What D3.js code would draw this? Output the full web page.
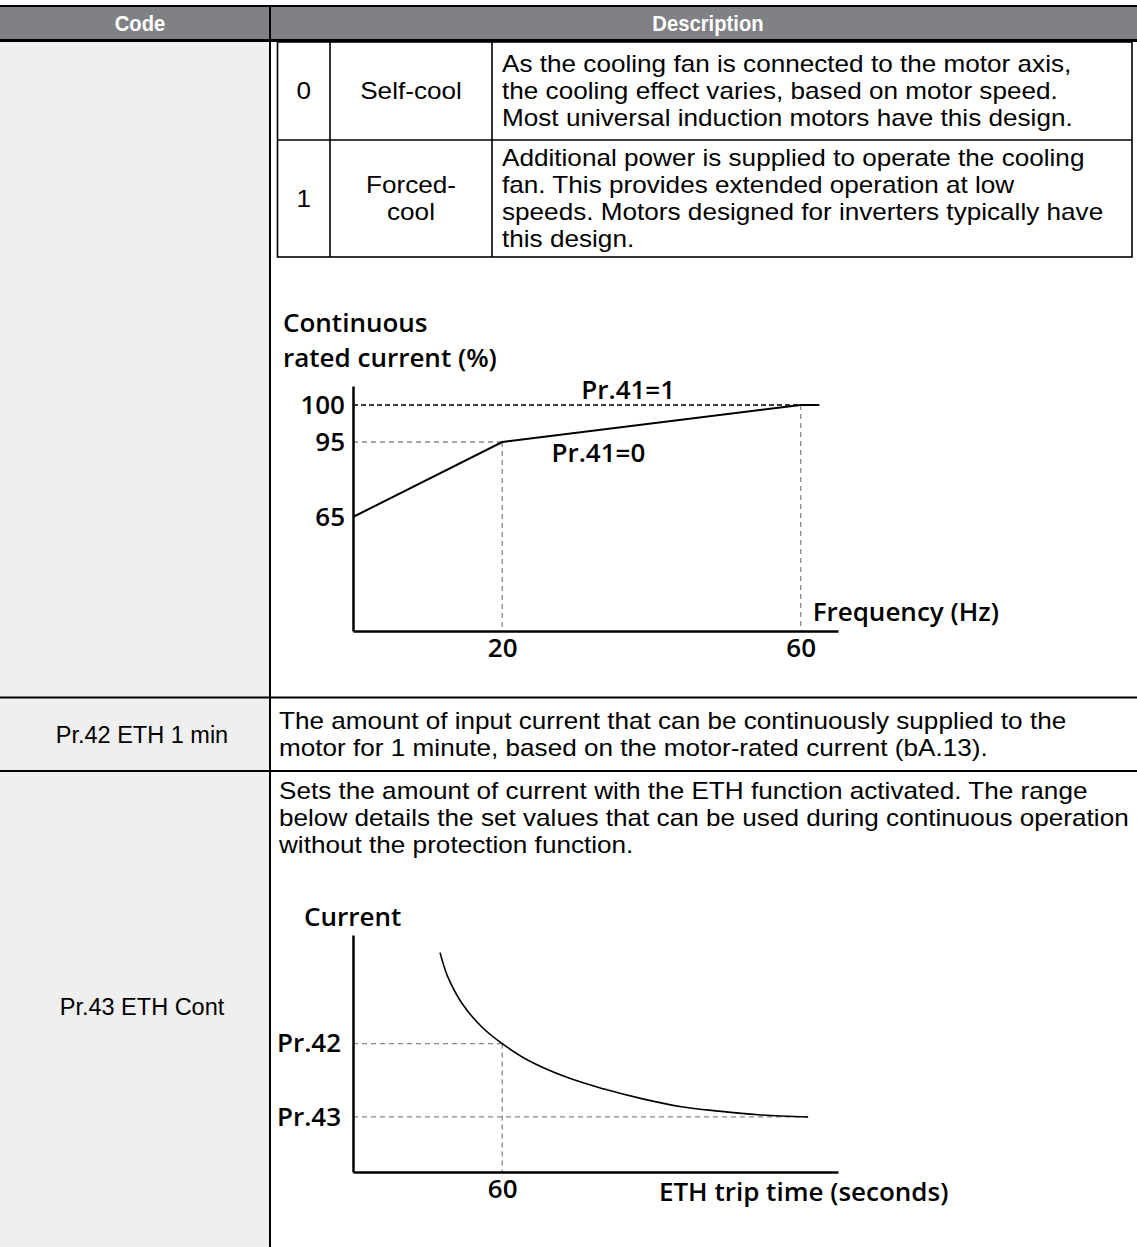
<!DOCTYPE html>
<html><head><meta charset="utf-8">
<script src="https://cdn.jsdelivr.net/npm/d3@7"></script>
<style>body{margin:0;background:#fff}svg{display:block}</style>
</head><body>
<svg id="c" width="1137" height="1247"></svg>
<script>
// ---------- table content ----------
const headerLabels = ["Code", "Description"];
const coolingCodes = ["0", "1"];
const coolingNames = [["Self-cool"], ["Forced-", "cool"]];
const coolingDescs = [
  ["As the cooling fan is connected to the motor axis,",
   "the cooling effect varies, based on motor speed.",
   "Most universal induction motors have this design."],
  ["Additional power is supplied to operate the cooling",
   "fan. This provides extended operation at low",
   "speeds. Motors designed for inverters typically have",
   "this design."]
];
const rowCodes = ["Pr.42 ETH 1 min", "Pr.43 ETH Cont"];
const rowDescs = [
  ["The amount of input current that can be continuously supplied to the",
   "motor for 1 minute, based on the motor-rated current (bA.13)."],
  ["Sets the amount of current with the ETH function activated. The range",
   "below details the set values that can be used during continuous operation",
   "without the protection function."]
];

// ---------- chart 1: continuous rated current vs frequency ----------
const chart1Title = ["Continuous", "rated current (%)"];
const freqTicks = [20, 60];
const ratedTicks = [65, 95, 100];
const selfCoolFreq = [0, 20, 60, 62.5];
const selfCoolRated = [65, 95, 100, 100];
const forcedCoolFreq = [0, 60];
const forcedCoolRated = [100, 100];
const curveLabels = ["Pr.41=1", "Pr.41=0"];
const freqAxisLabel = "Frequency (Hz)";

// ---------- chart 2: ETH trip curve ----------
const chart2Title = "Current";
const tripTime = [35, 38, 44, 52, 60, 70, 86, 101, 116, 132, 147, 163, 183];
const tripCurrent = [212, 196, 177, 161, 150, 139, 127, 119, 112.5, 107, 104, 101.5, 100];
const currentTickValues = [150, 100];
const currentTickLabels = ["Pr.42", "Pr.43"];
const timeTicks = [60];
const timeAxisLabel = "ETH trip time (seconds)";

// ---------- drawing ----------
const W = 1137, H = 1247;
const svg = d3.select("#c");
const TF = "'Liberation Sans', Arial, sans-serif";
const CF = "'Open Sans', sans-serif";
const TFS = 23;

// horizontal fit for the table font (longest description line ~850px wide)
const probe = svg.append("text").attr("font-family", TF).attr("font-size", TFS).text(rowDescs[1][1]);
const sx = 850 / probe.node().getComputedTextLength();
probe.remove();

function tText(str, x, cy, anchor, fs, color, weight, scale) {
  const s = scale === undefined ? sx : scale;
  return svg.append("text")
    .attr("transform", `translate(${x},${cy + 0.36 * fs}) scale(${s},1)`)
    .attr("text-anchor", anchor)
    .attr("font-family", TF).attr("font-size", fs)
    .attr("font-weight", weight || "normal")
    .attr("fill", color || "#000")
    .text(str);
}
function hline(x1, x2, y, w, c) {
  svg.append("line").attr("x1", x1).attr("x2", x2).attr("y1", y).attr("y2", y)
    .attr("stroke", c || "#000").attr("stroke-width", w);
}
function vline(x, y1, y2, w, c) {
  svg.append("line").attr("x1", x).attr("x2", x).attr("y1", y1).attr("y2", y2)
    .attr("stroke", c || "#000").attr("stroke-width", w);
}

// backgrounds
svg.append("rect").attr("x", 0).attr("y", 42).attr("width", 269).attr("height", H - 42).attr("fill", "#efefef");
svg.append("rect").attr("x", 0).attr("y", 6).attr("width", W).attr("height", 34).attr("fill", "#808184");

// header borders and text
hline(0, W, 6, 2);
hline(0, W, 40.5, 3);
vline(270, 5, H, 2);
tText(headerLabels[0], 140, 23, "middle", 22, "#fff", "bold", 0.92);
tText(headerLabels[1], 708, 23, "middle", 22, "#fff", "bold", 0.92);

// row separators
const rowLines = [697.5, 771];
rowLines.forEach(y => hline(0, W, y, 2));

// inner cooling table
const inL = 277.5, inS1 = 330, inS2 = 492, inR = 1132, inT = 42, inM = 140, inB = 257;
svg.append("rect").attr("x", inL).attr("y", inT).attr("width", inR - inL).attr("height", inB - inT)
  .attr("fill", "none").attr("stroke", "#000").attr("stroke-width", 1.6);
hline(inL, inR, inM, 1.6);
vline(inS1, inT, inB, 1.6);
vline(inS2, inT, inB, 1.6);
const lineGap = 27;
const rowSpans = [[inT, inM], [inM, inB]];
coolingCodes.forEach((code, i) => {
  const [a, b] = rowSpans[i];
  const mid = (a + b) / 2;
  tText(code, (inL + inS1) / 2, mid, "middle", TFS);
  const nm = coolingNames[i];
  nm.forEach((s, j) => tText(s, (inS1 + inS2) / 2, mid + (j - (nm.length - 1) / 2) * lineGap, "middle", TFS));
  const ds = coolingDescs[i];
  ds.forEach((s, j) => tText(s, inS2 + 10, mid + (j - (ds.length - 1) / 2) * lineGap, "start", TFS));
});

// Pr.42 row
{
  const mid = (rowLines[0] + rowLines[1]) / 2;
  tText(rowCodes[0], 142, mid, "middle", 23.5, "#000", "normal", 1);
  rowDescs[0].forEach((s, j) => tText(s, 279, mid + (j - 0.5) * lineGap, "start", TFS));
}
// Pr.43 row
{
  tText(rowCodes[1], 142, 1007, "middle", 23.5, "#000", "normal", 1);
  rowDescs[1].forEach((s, j) => tText(s, 279, 791 + j * lineGap, "start", TFS));
}

// common chart text helper
function cText(str, x, baseline) {
  return svg.append("text").attr("x", x).attr("y", baseline)
    .attr("font-family", CF).attr("font-size", 26).attr("font-weight", 600)
    .attr("fill", "#000").text(str);
}
function styleAxis(g) {
  g.attr("font-family", CF).attr("font-size", 26).attr("font-weight", 600);
  g.selectAll("text").attr("fill", "#000");
  g.select(".domain").attr("stroke", "#000").attr("stroke-width", 2.5);
}
const gray = "#8a8a8a";
function guide(xa, xb, ya, yb) {
  svg.append("line").attr("x1", xa).attr("x2", xb).attr("y1", ya).attr("y2", yb)
    .attr("stroke", gray).attr("stroke-width", 1.3).attr("stroke-dasharray", "5,4");
}

// ----- chart 1 -----
const x1 = d3.scaleLinear().domain([0, 65]).range([353, 838]);
const y1 = d3.scaleLinear().domain([0, 65, 95, 100, 102.5]).range([631, 517, 442, 405, 386]);

cText(chart1Title[0], 283, 332);
cText(chart1Title[1], 283, 367);

guide(x1(0), x1(20), y1(95), y1(95));
guide(x1(20), x1(20), y1(95), y1(0));
guide(x1(60), x1(60), y1(100), y1(0));

const line1 = d3.line().x(d => x1(d[0])).y(d => y1(d[1]));
svg.append("path").datum(d3.zip(forcedCoolFreq, forcedCoolRated)).attr("d", line1)
  .attr("fill", "none").attr("stroke", "#000").attr("stroke-width", 1.5).attr("stroke-dasharray", "5,3");
svg.append("path").datum(d3.zip(selfCoolFreq, selfCoolRated)).attr("d", line1)
  .attr("fill", "none").attr("stroke", "#000").attr("stroke-width", 2);

const ax1y = svg.append("g").attr("transform", `translate(${x1(0)},0)`)
  .call(d3.axisLeft(y1).tickValues(ratedTicks).tickSize(0).tickSizeOuter(0).tickPadding(8));
styleAxis(ax1y);
const ax1x = svg.append("g").attr("transform", `translate(0,${y1(0)})`)
  .call(d3.axisBottom(x1).tickValues(freqTicks).tickSize(0).tickSizeOuter(0).tickPadding(8));
styleAxis(ax1x);

cText(curveLabels[0], x1(30.6), y1(100) - 6);
cText(curveLabels[1], x1(26.6), y1(95) + 20);
cText(freqAxisLabel, x1(61.6), y1(0) - 10);

// ----- chart 2 -----
const x2 = d3.scaleLinear().domain([0, 195]).range([353, 838]);
const y2 = d3.scaleLinear().domain([62.5, 224]).range([1172, 935]);

cText(chart2Title, 304, 926);

guide(x2(0), x2(60), y2(150), y2(150));
guide(x2(60), x2(60), y2(150), y2(62.5));
guide(x2(0), x2(183), y2(100), y2(100));

const line2 = d3.line().x(d => x2(d[0])).y(d => y2(d[1])).curve(d3.curveCatmullRom.alpha(0.5));
svg.append("path").datum(d3.zip(tripTime, tripCurrent)).attr("d", line2)
  .attr("fill", "none").attr("stroke", "#000").attr("stroke-width", 1.6);

const ax2y = svg.append("g").attr("transform", `translate(${x2(0)},0)`)
  .call(d3.axisLeft(y2).tickValues(currentTickValues).tickSize(0).tickSizeOuter(0).tickPadding(12)
    .tickFormat(d => currentTickLabels[currentTickValues.indexOf(d)]));
styleAxis(ax2y);
const ax2x = svg.append("g").attr("transform", `translate(0,${y2(62.5)})`)
  .call(d3.axisBottom(x2).tickValues(timeTicks).tickSize(0).tickSizeOuter(0).tickPadding(8));
styleAxis(ax2x);

cText(timeAxisLabel, x2(123), y2(62.5) + 29);
</script>
</body></html>
